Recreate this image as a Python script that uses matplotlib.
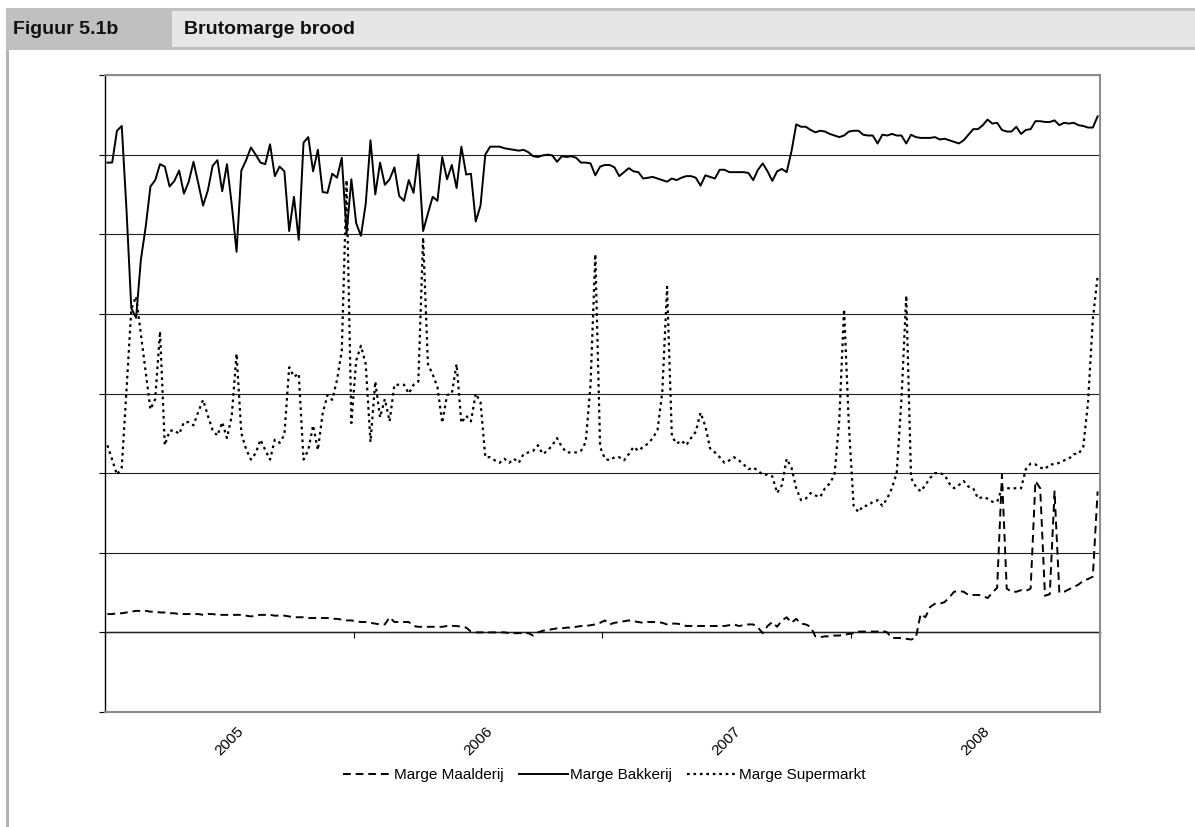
import matplotlib.pyplot as plt
from matplotlib.patches import Rectangle
import numpy as np

plt.rcParams['font.family'] = ['Liberation Sans', 'DejaVu Sans']

# weekly gross margins, 52 weeks per year label
years = ["2005", "2006", "2007", "2008"]
weeks_per_year = 52

bakkerij = [
    5.90, 5.90, 6.30, 6.36, 5.30, 4.07, 3.95, 4.68, 5.09, 5.60, 5.68, 5.88, 5.85,
    5.60, 5.67, 5.80, 5.51, 5.66, 5.91, 5.64, 5.36, 5.55, 5.86, 5.93, 5.54, 5.88,
    5.37, 4.78, 5.80, 5.93, 6.09, 6.00, 5.90, 5.88, 6.13, 5.73, 5.85, 5.79, 5.04,
    5.47, 4.93, 6.15, 6.22, 5.79, 6.06, 5.53, 5.52, 5.76, 5.71, 5.96, 5.01, 5.69,
    5.14, 4.98, 5.38, 6.18, 5.50, 5.90, 5.62, 5.69, 5.84, 5.48, 5.42, 5.68, 5.52,
    6.00, 5.04, 5.26, 5.47, 5.42, 5.97, 5.69, 5.87, 5.58, 6.10, 5.75, 5.76, 5.16,
    5.36, 6.00, 6.10, 6.10, 6.10, 6.08, 6.07, 6.06, 6.05, 6.06, 6.03, 5.98, 5.97,
    5.99, 6.00, 5.99, 5.91, 5.98, 5.97, 5.98, 5.96, 5.90, 5.90, 5.89, 5.74, 5.85,
    5.87, 5.87, 5.84, 5.73, 5.78, 5.83, 5.79, 5.78, 5.70, 5.71, 5.72, 5.70, 5.68,
    5.66, 5.70, 5.68, 5.71, 5.73, 5.73, 5.71, 5.61, 5.74, 5.72, 5.70, 5.81, 5.81,
    5.78, 5.78, 5.78, 5.78, 5.77, 5.68, 5.81, 5.89, 5.79, 5.67, 5.79, 5.82, 5.78,
    6.04, 6.38, 6.35, 6.35, 6.31, 6.28, 6.30, 6.29, 6.26, 6.24, 6.22, 6.24, 6.29,
    6.30, 6.30, 6.25, 6.24, 6.24, 6.14, 6.25, 6.24, 6.26, 6.24, 6.24, 6.14, 6.25,
    6.22, 6.21, 6.21, 6.21, 6.22, 6.19, 6.20, 6.18, 6.16, 6.14, 6.18, 6.25, 6.32,
    6.32, 6.37, 6.44, 6.39, 6.40, 6.31, 6.29, 6.29, 6.35, 6.26, 6.31, 6.32, 6.42,
    6.42, 6.41, 6.41, 6.43, 6.37, 6.40, 6.39, 6.40, 6.37, 6.36, 6.34, 6.34, 6.48,
]

supermarkt = [
    2.35, 2.17, 1.98, 2.07, 3.05, 4.06, 4.22, 3.75, 3.28, 2.80, 2.93, 3.78, 2.35,
    2.53, 2.54, 2.49, 2.64, 2.64, 2.60, 2.77, 2.92, 2.72, 2.54, 2.47, 2.64, 2.44,
    2.72, 3.50, 2.50, 2.30, 2.17, 2.25, 2.42, 2.29, 2.17, 2.42, 2.38, 2.48, 3.33,
    3.21, 3.25, 2.17, 2.29, 2.60, 2.29, 2.75, 2.98, 2.92, 3.17, 3.54, 5.68, 2.63,
    3.41, 3.60, 3.37, 2.39, 3.15, 2.70, 2.93, 2.65, 3.11, 3.11, 3.11, 3.00, 3.11,
    3.15, 4.96, 3.37, 3.24, 3.08, 2.63, 2.98, 3.00, 3.37, 2.63, 2.72, 2.65, 3.00,
    2.89, 2.20, 2.20, 2.16, 2.13, 2.18, 2.13, 2.18, 2.13, 2.24, 2.26, 2.28, 2.35,
    2.24, 2.28, 2.35, 2.44, 2.33, 2.26, 2.26, 2.26, 2.28, 2.39, 3.11, 4.75, 2.33,
    2.18, 2.16, 2.20, 2.20, 2.16, 2.24, 2.33, 2.28, 2.33, 2.37, 2.44, 2.54, 3.02,
    4.34, 2.46, 2.37, 2.41, 2.35, 2.44, 2.52, 2.76, 2.59, 2.31, 2.26, 2.20, 2.13,
    2.16, 2.20, 2.16, 2.11, 2.05, 2.07, 2.03, 1.98, 1.98, 1.96, 1.75, 1.85, 2.18,
    2.07, 1.81, 1.66, 1.68, 1.75, 1.72, 1.70, 1.81, 1.87, 1.98, 2.67, 4.06, 2.60,
    1.59, 1.51, 1.59, 1.59, 1.64, 1.66, 1.59, 1.68, 1.81, 2.00, 2.93, 4.23, 1.94,
    1.83, 1.77, 1.85, 1.94, 2.00, 2.00, 1.98, 1.87, 1.81, 1.85, 1.90, 1.83, 1.81,
    1.68, 1.70, 1.68, 1.64, 1.64, 1.81, 1.81, 1.81, 1.81, 1.81, 2.05, 2.12, 2.11,
    2.07, 2.05, 2.11, 2.11, 2.13, 2.16, 2.18, 2.24, 2.24, 2.33, 2.89, 3.93, 4.47,
]

maalderij = [
    0.23, 0.23, 0.24, 0.24, 0.25, 0.26, 0.27, 0.27, 0.27, 0.26, 0.26, 0.25, 0.25,
    0.24, 0.24, 0.23, 0.23, 0.23, 0.23, 0.23, 0.22, 0.23, 0.23, 0.22, 0.22, 0.22,
    0.22, 0.22, 0.22, 0.21, 0.20, 0.21, 0.22, 0.22, 0.22, 0.21, 0.21, 0.21, 0.20,
    0.19, 0.19, 0.19, 0.18, 0.18, 0.18, 0.18, 0.18, 0.17, 0.17, 0.16, 0.15, 0.15,
    0.14, 0.13, 0.13, 0.12, 0.11, 0.10, 0.10, 0.19, 0.13, 0.13, 0.13, 0.13, 0.08,
    0.07, 0.07, 0.07, 0.07, 0.07, 0.07, 0.08, 0.08, 0.08, 0.07, 0.06, 0.01, 0.00,
    0.00, 0.00, 0.00, 0.00, 0.00, 0.00, -0.01, -0.01, -0.01, -0.01, -0.01, -0.04, 0.00,
    0.02, 0.03, 0.04, 0.05, 0.05, 0.06, 0.06, 0.07, 0.08, 0.08, 0.09, 0.10, 0.12,
    0.15, 0.10, 0.12, 0.13, 0.14, 0.15, 0.14, 0.13, 0.12, 0.13, 0.13, 0.13, 0.12,
    0.10, 0.11, 0.11, 0.10, 0.08, 0.08, 0.08, 0.08, 0.08, 0.08, 0.08, 0.08, 0.08,
    0.09, 0.10, 0.08, 0.09, 0.10, 0.10, 0.06, -0.01, 0.08, 0.13, 0.07, 0.15, 0.19,
    0.12, 0.17, 0.11, 0.10, 0.07, -0.05, -0.06, -0.05, -0.05, -0.04, -0.04, -0.03, -0.02,
    -0.01, 0.01, 0.01, 0.01, 0.01, 0.01, 0.02, 0.00, -0.07, -0.07, -0.07, -0.08, -0.09,
    -0.07, 0.23, 0.19, 0.32, 0.36, 0.36, 0.38, 0.44, 0.51, 0.52, 0.51, 0.47, 0.47,
    0.47, 0.46, 0.43, 0.50, 0.56, 1.98, 0.55, 0.51, 0.51, 0.53, 0.52, 0.55, 1.90,
    1.81, 0.46, 0.48, 1.77, 0.50, 0.51, 0.54, 0.57, 0.60, 0.65, 0.67, 0.70, 1.77,
]

W, H = 1195, 827
fig = plt.figure(figsize=(W / 100, H / 100), dpi=100)


def fig_rect(x0, y0, x1, y1):
    # pixel box (top-left origin) -> figure fraction rect
    return [x0 / W, 1 - y1 / H, (x1 - x0) / W, (y1 - y0) / H]


def add_box(x0, y0, x1, y1, color):
    l, b, w, h = fig_rect(x0, y0, x1, y1)
    fig.patches.append(Rectangle((l, b), w, h, transform=fig.transFigure,
                                 facecolor=color, edgecolor='none', zorder=0))


# header band and left frame line
add_box(6, 8, W, 50, '#c0c0c0')
add_box(172, 11, W, 47, '#e6e6e6')
add_box(6, 50, 9, H, '#b4b4b4')
head_font = ['Liberation Sans Narrow', 'Liberation Sans', 'DejaVu Sans']
fig.text(13 / W, 1 - 30 / H, "Figuur 5.1b", family=head_font, weight='bold',
         fontsize=14, va='center', ha='left', color='#111111')
fig.text(184 / W, 1 - 30 / H, "Brutomarge brood", family=head_font, weight='bold',
         fontsize=14, va='center', ha='left', color='#111111')

ax = fig.add_axes(fig_rect(105, 75, 1100, 712))
x = np.arange(len(bakkerij))

ax.plot(x, maalderij, color='black', lw=1.4, dashes=(4, 2.5), label='Marge Maalderij')
ax.plot(x, bakkerij, color='black', lw=1.4, label='Marge Bakkerij')
ax.plot(x, supermarkt, color='black', lw=1.6, dashes=(1.2, 1.7), label='Marge Supermarkt')

ymin, ymax = -1, 7
ax.set_xlim(-0.5, len(x) - 0.5)
ax.set_ylim(ymin, ymax)
ax.set_yticks(range(ymin, ymax + 1))
ax.set_yticklabels([])
ax.tick_params(axis='y', direction='out', length=4, width=0.8, color='black')
ax.grid(axis='y', color='#222222', lw=0.8)
ax.set_axisbelow(True)

# year labels centred in each block of weeks
centers = [i * weeks_per_year + (weeks_per_year - 1) / 2 for i in range(len(years))]
ax.set_xticks(centers)
ax.set_xticklabels(years, rotation=45, ha='center', va='center', fontsize=11)
ax.tick_params(axis='x', length=0, pad=21)

for side in ['top', 'right', 'bottom']:
    ax.spines[side].set_color('#8c8c8c')
    ax.spines[side].set_linewidth(1.5)
ax.spines['left'].set_color('black')
ax.spines['left'].set_linewidth(1.0)

# category axis crossing at zero with year boundary marks
sec = ax.secondary_xaxis((0 - ymin) / (ymax - ymin))
bounds = [i * weeks_per_year - 0.5 for i in range(len(years) + 1)]
sec.set_xticks(bounds)
sec.set_xticklabels([])
sec.tick_params(direction='out', length=4, width=0.8, color='black')
sec.spines['bottom'].set_color('black')
sec.spines['bottom'].set_linewidth(1.0)

fig.legend(loc='center', bbox_to_anchor=(604 / W, 1 - 775 / H), ncol=3,
           frameon=False, fontsize=11, handlelength=3.2, handletextpad=0.15,
           columnspacing=1.0)

fig.savefig('out.png', dpi=100)
